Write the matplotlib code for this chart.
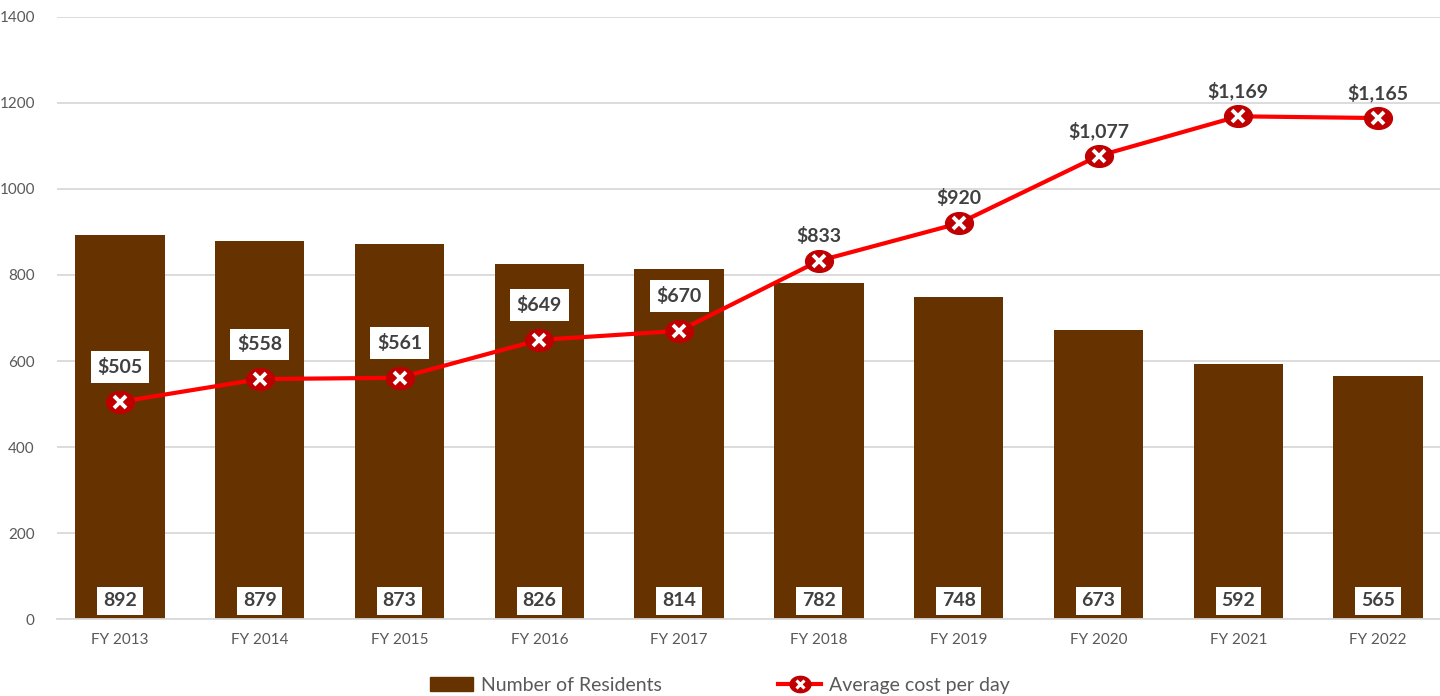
import matplotlib.pyplot as plt
import numpy as np
from matplotlib.lines import Line2D
from matplotlib.patches import Patch
from matplotlib.path import Path

years = ['FY 2013', 'FY 2014', 'FY 2015', 'FY 2016', 'FY 2017',
         'FY 2018', 'FY 2019', 'FY 2020', 'FY 2021', 'FY 2022']
residents = [892, 879, 873, 826, 814, 782, 748, 673, 592, 565]
cost_per_day = [505, 558, 561, 649, 670, 833, 920, 1077, 1169, 1165]

plt.rcParams['font.family'] = ['Lato', 'DejaVu Sans']

# slightly wide ellipse marker
t = np.linspace(0, 2 * np.pi, 60)
ellipse = Path(np.column_stack([1.28 * np.cos(t), np.sin(t)]), closed=True)

fig = plt.figure(figsize=(14.4, 6.96), dpi=100)
ax = fig.add_axes([0.0396, 0.1106, 0.965, 0.865])

x = np.arange(len(years))

ax.bar(x, residents, width=0.64, color='#663300', zorder=2)

ax.plot(x, cost_per_day, color='#FF0000', lw=3, zorder=3)
ax.plot(x, cost_per_day, ls='none', marker=ellipse, ms=20, mfc='#C00000',
        mec='#C00000', zorder=4)
ax.plot(x, cost_per_day, ls='none', marker='x', ms=8, mec='white',
        mew=2.8, zorder=5)

for xi, v in zip(x, residents):
    ax.annotate(str(v), (xi, 0), xytext=(0, 13), textcoords='offset points',
                ha='center', va='center', fontsize=14, fontweight='bold',
                color='#404040', zorder=6,
                bbox=dict(boxstyle='square,pad=0.3', fc='white', ec='none'))

for xi, v, r in zip(x, cost_per_day, residents):
    on_bar = v < r
    ax.annotate('${:,}'.format(v), (xi, v), xytext=(0, 25 if on_bar else 18),
                textcoords='offset points', ha='center', va='center',
                fontsize=14, fontweight='bold', color='#404040', zorder=6,
                bbox=dict(boxstyle='square,pad=0.35', fc='white', ec='none')
                if on_bar else None)

ax.set_ylim(0, 1400)
ax.set_yticks(range(0, 1401, 200))
ax.set_xlim(-0.45, 9.49)
ax.set_xticks(x)
ax.set_xticklabels(years)
ax.grid(axis='y', color='#D9D9D9', lw=1.3, zorder=0)
ax.set_axisbelow(True)
for s in ['top', 'right', 'left']:
    ax.spines[s].set_visible(False)
ax.spines['bottom'].set_color('#D9D9D9')
ax.spines['bottom'].set_linewidth(1.3)
ax.tick_params(axis='both', length=0, labelsize=11, labelcolor='#595959')
ax.tick_params(axis='y', pad=16)
ax.tick_params(axis='x', pad=10)

handles = [
    Patch(color='#663300'),
    (Line2D([], [], color='#FF0000', lw=3),
     Line2D([], [], ls='none', marker=ellipse, ms=15, mfc='#C00000', mec='#C00000'),
     Line2D([], [], ls='none', marker='x', ms=6, mec='white', mew=2.2)),
]
fig.legend(handles, ['Number of Residents', 'Average cost per day'],
           loc='center', bbox_to_anchor=(0.5, 0.015), ncol=2,
           frameon=False, fontsize=14, handlelength=2.2,
           columnspacing=6, handletextpad=0.4, labelcolor='#595959')

plt.savefig('out.png', dpi=100)
